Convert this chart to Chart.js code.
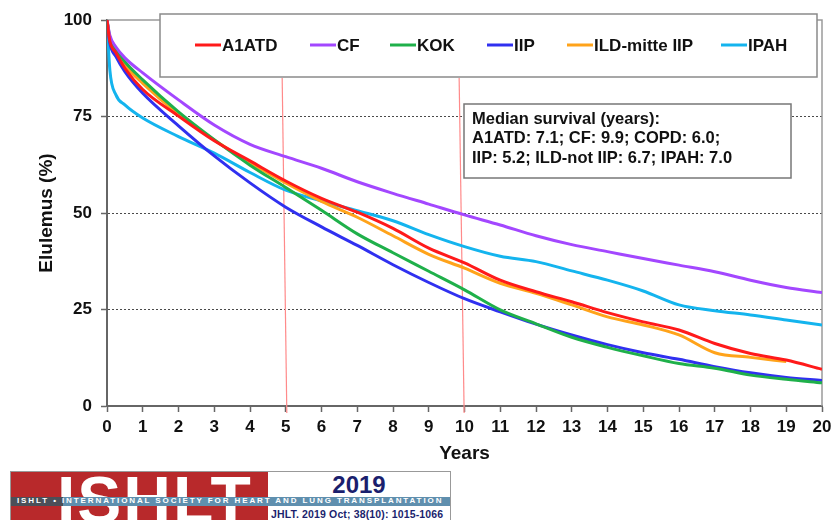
<!DOCTYPE html>
<html>
<head>
<meta charset="utf-8">
<script src="https://cdn.jsdelivr.net/npm/chart.js@4.4.1/dist/chart.umd.min.js"></script>
<style>
  html, body { margin: 0; padding: 0; background: #fff; }
  #wrap { position: relative; width: 831px; height: 520px; overflow: hidden; font-family: "Liberation Sans", Arial, sans-serif; }
  #chart { position: absolute; left: 0; top: 0; }
  /* ISHLT logo */
  #logo { position: absolute; left: 10px; top: 471px; width: 439px; height: 52px; border: 1px solid #999; overflow: hidden; background: #fff; }
  #logo .red { position: absolute; left: 0; top: 0; width: 257px; height: 100%; background: #b8292b; overflow: hidden; }
  #logo .big { position: absolute; left: 46px; top: -5px; color: #fff; font-weight: bold; font-size: 66px; line-height: 66px; letter-spacing: 2px; }
  #logo .year { position: absolute; left: 257px; width: 182px; top: -1px; text-align: center; color: #1b1f6e; font-weight: bold; font-size: 24px; }
  #logo .band { position: absolute; left: 0; top: 25px; width: 100%; height: 9px; background: #5f8fae; }
  #logo .band .dark { position: absolute; left: 0; top: 0; width: 52px; height: 100%; background: #4b4f58; }
  #logo .band span { position: absolute; left: 6px; top: -1px; color: #fff; font-weight: bold; font-size: 8px; letter-spacing: 1.9px; white-space: nowrap; }
  #logo .ref { position: absolute; left: 260px; top: 36px; color: #1b1f6e; font-size: 10.5px; letter-spacing: 0.15px; font-weight: bold; white-space: nowrap; }
</style>
</head>
<body>
<div id="wrap">
  <canvas id="chart" width="831" height="520"></canvas>
  <div id="logo">
    <div class="red"><div class="big">ISHLT</div></div>
    <div class="year">2019</div>
    <div class="band"><div class="dark"></div><span>ISHLT • INTERNATIONAL SOCIETY FOR HEART AND LUNG TRANSPLANTATION</span></div>
    <div class="ref">JHLT. 2019 Oct; 38(10): 1015-1066</div>
  </div>
</div>
<script>
/* DATA */
const years = [0, 0.08, 0.25, 0.5, 1, 2, 3, 4, 5, 6, 7, 8, 9, 10, 11, 12, 13, 14, 15, 16, 17, 18, 19, 20];

const a1atd = [100, 94.5, 91.5, 87.5, 82, 75.1, 68.7, 63.5, 58.3, 53.8, 50.2, 46, 40.9, 37.1, 32.6, 29.6, 27, 24.2, 21.8, 19.7, 16.2, 13.6, 11.9, 9.5];
const cf    = [100, 96, 93, 90.2, 86.3, 79.3, 72.8, 67.8, 64.6, 61.6, 58.1, 55.1, 52.3, 49.5, 46.9, 44.1, 41.8, 40, 38.2, 36.5, 34.8, 32.6, 30.7, 29.4];
const kok   = [100, 95.5, 92.5, 89.2, 84.5, 76.2, 69, 62.4, 56.6, 50.7, 44.6, 39.7, 34.9, 30.1, 24.9, 21.3, 17.8, 15.2, 13, 11, 9.8, 8, 6.9, 6];
const iip   = [100, 94, 90.5, 86.6, 81, 72.6, 64.8, 57.8, 51.5, 46.4, 41.6, 36.6, 32, 27.8, 24.4, 21.2, 18.4, 15.9, 13.8, 12.1, 10.2, 8.6, 7.4, 6.6];
const ild   = [100, 95, 92, 88.3, 83.6, 75.6, 68.9, 63, 57.8, 53, 48.9, 44.1, 39.3, 35.7, 31.8, 29.2, 26.2, 23.1, 21, 18.4, 13.8, 12.6, 11.5, null];
const ipah  = [100, 87, 80.6, 78, 74.6, 69.8, 65.5, 60.5, 55.9, 53.1, 50.6, 48, 44.4, 41.3, 38.8, 37.4, 35, 32.6, 29.8, 26.2, 24.7, 23.6, 22.3, 21];

const seriesNames = ["A1ATD", "CF", "KOK", "IIP", "ILD-mitte IIP", "IPAH"];
const seriesData = [a1atd, cf, kok, iip, ild, ipah];
const seriesColors = ["#ff1a1a", "#a347ff", "#1fb04a", "#3030f0", "#ffa31a", "#14b4ee"];

// red marker lines at 5 and 10 years (slightly slanted as in the figure)
const markerX = [[4.9, 5.03], [9.85, 9.99]];
const markerY = [85, -1.8];

const yTicks = [0, 25, 50, 75, 100];
const medianLines = [
  "Median survival (years):",
  "A1ATD: 7.1; CF: 9.9; COPD: 6.0;",
  "IIP: 5.2; ILD-not IIP: 6.7; IPAH: 7.0"
];

const FONT = "'Liberation Sans', Arial, sans-serif";
const legendX = [195, 310, 390, 487, 567, 721];

const datasets = seriesNames.map((name, i) => ({
  label: name,
  data: years.map((x, j) => ({ x, y: seriesData[i][j] })).filter(p => p.y !== null),
  borderColor: seriesColors[i],
  backgroundColor: seriesColors[i],
  borderWidth: 3,
  pointRadius: 0,
  cubicInterpolationMode: "monotone",
  fill: false
}));

markerX.forEach(mx => {
  datasets.push({
    label: "",
    data: [{ x: mx[0], y: markerY[0] }, { x: mx[1], y: markerY[1] }],
    borderColor: "#ff8a8a",
    borderWidth: 1.2,
    pointRadius: 0,
    clip: false,
    order: 10
  });
});

/* boxes drawn over the plot */
const overlay = {
  id: "overlay",
  beforeDatasetsDraw(c) {
    const { ctx, chartArea: a } = c;
    ctx.save();
    // plot frame (top / right)
    ctx.strokeStyle = "#9a9a9a";
    ctx.lineWidth = 1.5;
    ctx.beginPath();
    ctx.moveTo(a.left, a.top);
    ctx.lineTo(a.right, a.top);
    ctx.lineTo(a.right, a.bottom);
    ctx.stroke();
    ctx.restore();
  },
  afterDatasetsDraw(c) {
    const { ctx } = c;
    ctx.save();

    // legend box
    ctx.fillStyle = "#fff";
    ctx.fillRect(160, 14, 657, 63);
    ctx.strokeStyle = "#8a8a8a";
    ctx.lineWidth = 1.5;
    ctx.strokeRect(160, 14, 657, 63);

    ctx.font = "bold 17px " + FONT;
    ctx.textBaseline = "middle";
    seriesNames.forEach((name, i) => {
      const x = legendX[i];
      ctx.strokeStyle = seriesColors[i];
      ctx.lineWidth = 3;
      ctx.beginPath();
      ctx.moveTo(x, 45);
      ctx.lineTo(x + 26, 45);
      ctx.stroke();
      ctx.fillStyle = "#111";
      ctx.fillText(name, x + 27, 46);
    });

    // median survival box
    ctx.fillStyle = "#fff";
    ctx.fillRect(464, 104, 327, 74);
    ctx.strokeStyle = "#777";
    ctx.lineWidth = 1.5;
    ctx.strokeRect(464, 104, 327, 74);
    ctx.fillStyle = "#111";
    ctx.font = "bold 16.5px " + FONT;
    medianLines.forEach((t, i) => ctx.fillText(t, 472, 119 + i * 19.5));

    ctx.restore();
  }
};

const ctx = document.getElementById("chart").getContext("2d");

new Chart(ctx, {
  type: "line",
  data: { datasets },
  options: {
    responsive: false,
    animation: false,
    layout: { padding: { left: 31, right: 9, top: 20, bottom: 51 } },
    plugins: {
      legend: { display: false },
      tooltip: { enabled: false }
    },
    scales: {
      x: {
        type: "linear",
        min: 0,
        max: 20,
        afterFit: s => { s.height = 63; s.paddingLeft = 0; s.paddingRight = 0; },
        ticks: {
          stepSize: 1,
          color: "#111",
          padding: 5,
          font: { family: FONT, size: 17, weight: "bold" }
        },
        grid: {
          drawOnChartArea: false,
          tickLength: 6,
          tickColor: "#666",
          tickWidth: 1.5
        },
        border: { color: "#666", width: 2 },
        title: {
          display: true,
          text: "Years",
          color: "#111",
          padding: { top: 0, bottom: 4 },
          font: { family: FONT, size: 19, weight: "bold" }
        }
      },
      y: {
        min: 0,
        max: 100,
        afterFit: s => { s.width = 76; s.paddingTop = 0; s.paddingBottom = 0; },
        afterBuildTicks: s => { s.ticks = yTicks.map(v => ({ value: v })); },
        ticks: {
          color: "#111",
          padding: 9,
          font: { family: FONT, size: 17, weight: "bold" }
        },
        grid: {
          color: g => (g.tick && g.tick.value > 0 && g.tick.value < 100) ? "#4a4a4a" : "rgba(0,0,0,0)",
          lineWidth: 1,
          tickLength: 6,
          tickColor: "#666",
          tickWidth: 1.5,
          tickBorderDash: []
        },
        border: { color: "#666", width: 2, dash: [2, 2] },
        title: {
          display: true,
          text: "Elulemus (%)",
          color: "#111",
          padding: { top: 4, bottom: 0 },
          font: { family: FONT, size: 19, weight: "bold" }
        }
      }
    }
  },
  plugins: [overlay]
});
</script>
</body>
</html>
